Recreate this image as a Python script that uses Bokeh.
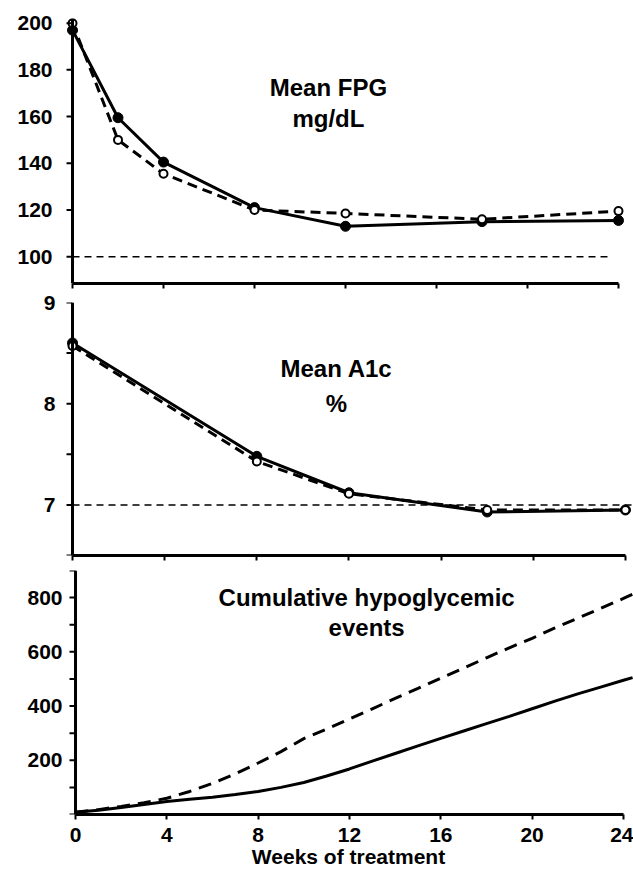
import math
from bokeh.plotting import figure
from bokeh.layouts import column
from bokeh.models import Range1d, FixedTicker, Span
from bokeh.core.properties import value
from bokeh.embed import file_html
from bokeh.resources import INLINE

FONT = "Liberation Sans"

# ---------------- data ----------------
week_ticks = [0, 4, 8, 12, 16, 20, 24]

# Panel 1: Mean FPG (mg/dL)
fpg_weeks = [0, 2, 4, 8, 12, 18, 24]
fpg_solid = [197, 159.5, 140.5, 121, 113, 115, 115.5]
fpg_dashed = [200, 150, 135.5, 120, 118.5, 116, 119.5]
fpg_target = [100, 100]
fpg_target_weeks = [0, 23.7]
fpg_ticks = [100, 120, 140, 160, 180, 200]

# Panel 2: Mean A1c (%)
a1c_weeks = [0, 8, 12, 18, 24]
a1c_solid = [8.6, 7.48, 7.12, 6.93, 6.95]
a1c_dashed = [8.57, 7.43, 7.11, 6.95, 6.95]
a1c_target = [7, 7]
a1c_target_weeks = [0, 24.35]
a1c_ticks = [7, 8, 9]
a1c_minor = [6.5, 7.5, 8.5]

# Panel 3: Cumulative hypoglycemic events
hypo_weeks = [0, 1, 2, 3, 4, 5, 6, 7, 8, 9, 10, 11, 12, 13, 14, 15, 16, 17,
              18, 19, 20, 21, 22, 23, 24, 24.4]
hypo_solid = [8, 16, 26, 37, 48, 56, 64, 74, 85, 100, 118, 142, 168, 197, 225,
              253, 281, 308, 335, 362, 390, 418, 445, 470, 495, 505]
hypo_dashed = [8, 18, 30, 43, 60, 85, 115, 150, 190, 232, 280, 315, 352, 390,
               428, 465, 503, 540, 578, 615, 650, 688, 724, 760, 797, 812]
hypo_ticks = [200, 400, 600, 800]
hypo_minor = [0, 100, 300, 500, 700, 900]


def style(p):
    p.outline_line_color = None
    p.xgrid.visible = False
    p.ygrid.visible = False
    p.background_fill_color = "white"
    p.border_fill_color = "white"
    for ax in p.axis:
        ax.axis_line_width = 3
        ax.axis_line_color = "black"
        ax.major_tick_line_width = 2
        ax.minor_tick_line_width = 2
        ax.major_tick_out = 5
        ax.major_tick_in = 0
        ax.minor_tick_out = 5
        ax.minor_tick_in = 0
        ax.major_label_text_font = FONT
        ax.major_label_text_font_style = "bold"
        ax.major_label_text_font_size = "21px"
        ax.major_label_text_color = "black"


def title(p, xs, ys, texts):
    p.text(x=xs, y=ys, text=texts, text_font=value(FONT), text_font_style="bold",
           text_font_size="24px", text_align="center", text_baseline="middle",
           text_color="black")


def detached_y(p, ticks, standoff):
    # y spine drawn at week 0, labels kept on the axis
    p.add_layout(Span(location=0, dimension="height", line_color="black", line_width=3))
    p.ray(x=[0] * len(ticks), y=ticks, length=6, length_units="screen", angle=math.pi,
          line_color="black", line_width=2)
    p.yaxis.axis_line_color = None
    p.yaxis.major_tick_line_color = None
    p.yaxis.minor_tick_line_color = None
    p.yaxis.major_tick_out = 0
    p.yaxis.minor_tick_out = 0
    p.yaxis.major_label_standoff = standoff


BL = 63  # common left border of all three frames
FW = 570

# ---------------- panel 1 ----------------
p1 = figure(output_backend="svg", toolbar_location=None,
            width=633, height=290, frame_width=FW, frame_height=265,
            min_border_left=BL, min_border_right=0, min_border_top=18, min_border_bottom=7,
            x_range=Range1d(-0.396, 24.66), y_range=Range1d(88.5, 202))
p1.line(fpg_target_weeks, fpg_target, line_color="black", line_width=1.5, line_dash="7 5")
p1.line(fpg_weeks, fpg_solid, line_color="black", line_width=3)
p1.line(fpg_weeks, fpg_dashed, line_color="black", line_width=3, line_dash="10 6")
p1.scatter(fpg_weeks, fpg_solid, marker="circle", size=10, fill_color="black", line_color="black")
p1.scatter(fpg_weeks, fpg_dashed, marker="circle", size=8, fill_color="white", line_color="black", line_width=2)
title(p1, [11.25, 11.25], [172.6, 159], ["Mean FPG", "mg/dL"])
style(p1)
p1.xaxis.ticker = FixedTicker(ticks=[], minor_ticks=week_ticks)
p1.xaxis.bounds = (0, 24)
p1.yaxis.ticker = FixedTicker(ticks=fpg_ticks)
detached_y(p1, fpg_ticks, 11)

# ---------------- panel 2 ----------------
p2 = figure(output_backend="svg", toolbar_location=None,
            width=633, height=275, frame_width=FW, frame_height=253,
            min_border_left=BL, min_border_right=0, min_border_top=12, min_border_bottom=10,
            x_range=Range1d(-0.391, 24.35), y_range=Range1d(6.5, 9.0))
p2.line(a1c_target_weeks, a1c_target, line_color="black", line_width=1.5, line_dash="7 5")
p2.line(a1c_weeks, a1c_solid, line_color="black", line_width=3)
p2.line(a1c_weeks, a1c_dashed, line_color="black", line_width=3, line_dash="10 6")
p2.scatter(a1c_weeks, a1c_solid, marker="circle", size=10, fill_color="black", line_color="black")
p2.scatter(a1c_weeks, a1c_dashed, marker="circle", size=8, fill_color="white", line_color="black", line_width=2)
title(p2, [11.46, 11.46], [8.35, 8.0], ["Mean A1c", "%"])
style(p2)
p2.xaxis.ticker = FixedTicker(ticks=[], minor_ticks=week_ticks)
p2.xaxis.bounds = (0, 24)
p2.yaxis.ticker = FixedTicker(ticks=a1c_ticks)
detached_y(p2, a1c_ticks + a1c_minor, 8)

# ---------------- panel 3 ----------------
p3 = figure(output_backend="svg", toolbar_location=None,
            width=633, height=304, frame_width=FW, frame_height=244,
            min_border_left=BL, min_border_right=0, min_border_top=5, min_border_bottom=55,
            x_range=Range1d(-0.526, 24.44), y_range=Range1d(0, 900))
p3.line(hypo_weeks, hypo_solid, line_color="black", line_width=3)
p3.line(hypo_weeks, hypo_dashed, line_color="black", line_width=3, line_dash="13 8")
title(p3, [12.75, 12.75], [800, 690], ["Cumulative hypoglycemic", "events"])
style(p3)
p3.xaxis.ticker = FixedTicker(ticks=week_ticks)
p3.xaxis.bounds = (0, 24)
p3.xaxis.major_label_standoff = 8
p3.xaxis.axis_label = "Weeks of treatment"
p3.xaxis.axis_label_text_font = FONT
p3.xaxis.axis_label_text_font_style = "bold"
p3.xaxis.axis_label_text_font_size = "21px"
p3.xaxis.axis_label_text_color = "black"
p3.xaxis.axis_label_standoff = 0
p3.yaxis.ticker = FixedTicker(ticks=hypo_ticks)
detached_y(p3, hypo_ticks + hypo_minor, 1)

layout = column(p1, p2, p3, spacing=0)
open("out.html", "w").write(file_html(layout, INLINE))
